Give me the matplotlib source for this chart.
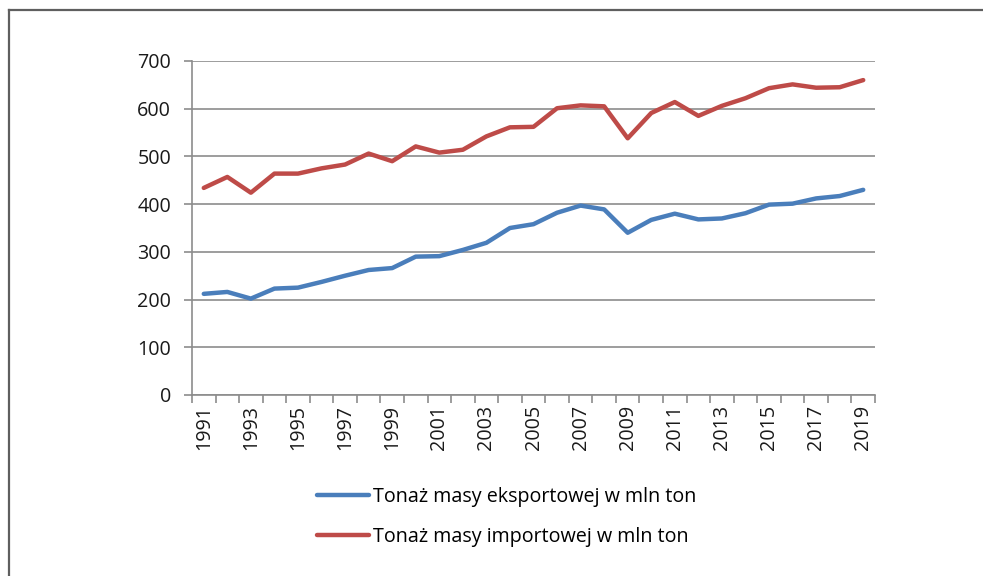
import matplotlib
matplotlib.use("Agg")
import matplotlib.pyplot as plt
from matplotlib.lines import Line2D

years = list(range(1991, 2020))
eksport = [212, 216, 202, 223, 225, 237, 250, 262, 266, 290, 291, 304, 319, 350, 358,
           382, 397, 389, 340, 367, 380, 368, 370, 381, 399, 401, 412, 417, 430]
import_ = [434, 457, 424, 464, 464, 475, 483, 506, 490, 521, 508, 514, 542, 561, 562,
           601, 607, 605, 538, 591, 614, 585, 606, 622, 643, 651, 644, 645, 660]
labels = ["Tonaż masy eksportowej w mln ton", "Tonaż masy importowej w mln ton"]

plt.rcParams['font.family'] = ['Open Sans', 'DejaVu Sans']

W, H = 983, 576
fig = plt.figure(figsize=(W / 100, H / 100), dpi=100)
ax = fig.add_axes([192 / W, 1 - 395 / H, (875 - 192) / W, (395 - 61) / H])

x = list(range(len(years)))
ax.plot(x, eksport, color='#4A7EBB', lw=3.2, solid_capstyle='round', label=labels[0])
ax.plot(x, import_, color='#BE4B48', lw=3.2, solid_capstyle='round', label=labels[1])

ax.set_xlim(-0.5, len(years) - 0.5)
ax.set_ylim(0, 700)
ax.set_yticks(range(0, 701, 100))
ax.yaxis.grid(True, color='#8c8c8c', lw=1.2)
ax.set_axisbelow(True)

# category axis: ticks between categories, labels every second year
ax.set_xticks([i - 0.5 for i in range(len(years) + 1)])
ax.set_xticklabels([])
ax.set_xticks(x[::2], minor=True)
ax.set_xticklabels([str(y) for y in years[::2]], minor=True, rotation=90)
ax.tick_params(axis='x', which='minor', length=0, pad=7)
ax.tick_params(axis='x', which='major', length=6, color='#8c8c8c', width=1.2)
ax.tick_params(axis='y', length=6, color='#8c8c8c', width=1.2, pad=9)
ax.tick_params(labelsize=14.2, labelcolor='#1a1a1a', which='both')

for s in ['top', 'right']:
    ax.spines[s].set_visible(False)
for s in ['left', 'bottom']:
    ax.spines[s].set_color('#8c8c8c')
    ax.spines[s].set_linewidth(1.2)

fig.legend(loc='upper left', bbox_to_anchor=(307 / W, 1 - 477 / H), frameon=False,
           fontsize=14.2, handlelength=2.64, handletextpad=0.2, labelspacing=1.02,
           borderpad=0)

# outer frame (top and left edges visible)
fig.add_artist(Line2D([9 / W, 9 / W], [0, 1 - 10 / H], transform=fig.transFigure,
                      color='#5f5f5f', lw=1.6))
fig.add_artist(Line2D([9 / W, 1], [1 - 10 / H, 1 - 10 / H], transform=fig.transFigure,
                      color='#5f5f5f', lw=1.6))

fig.savefig('out.png', dpi=100)
